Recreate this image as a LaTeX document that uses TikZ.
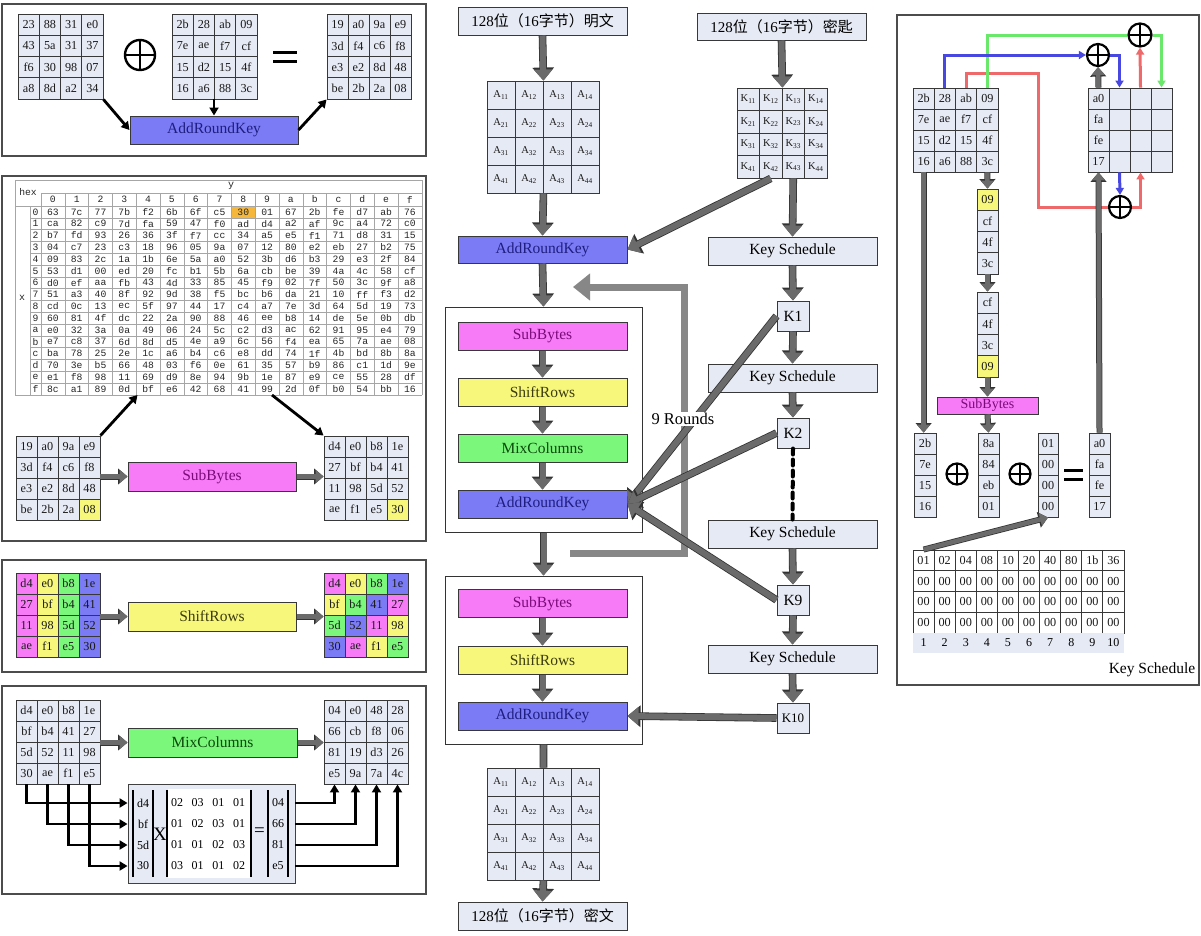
\documentclass[tikz,border=0pt]{standalone}
\usepackage{fontspec}
\setmainfont{Liberation Serif}
\newfontfamily\cjk{Noto Sans CJK SC}
\newfontfamily\monof{Liberation Mono}
\usetikzlibrary{arrows.meta}
\definecolor{bg}{HTML}{E6EAF4}
\definecolor{bl}{HTML}{7B7BF5}
\definecolor{mg}{HTML}{F77BF7}
\definecolor{yl}{HTML}{F7F77B}
\definecolor{gn}{HTML}{7BF77B}
\definecolor{org}{HTML}{F5B83D}
\definecolor{arktxt}{HTML}{1E1E80}
\definecolor{sbtxt}{HTML}{7A0A7A}
\definecolor{srtxt}{HTML}{3C3C10}
\definecolor{mctxt}{HTML}{0A4A0A}
\definecolor{redl}{HTML}{EE6A6A}
\definecolor{bluel}{HTML}{4848E0}
\definecolor{greenl}{HTML}{6AE86A}
\newcommand\fsz[1]{\fontsize{#1}{#1}\selectfont}
\newcommand\cellpre[1]{#1}
\newcommand\mgrid[7]{%
 \foreach \v [count=\ix from 0] in {#7} {%
  \pgfmathtruncatemacro\gr{div(\ix,#6)}%
  \pgfmathtruncatemacro\gc{mod(\ix,#6)}%
  \node[cell, minimum width=#4, minimum height=#5] (#1-\gr-\gc) at ({#2+(\gc+0.5)*#4},{#3+(\gr+0.5)*#5}) {\cellpre{\v}};
 }}
\newcommand\cgrid[7]{%
 \foreach \v/\f [count=\ix from 0] in {#7} {%
  \pgfmathtruncatemacro\gr{div(\ix,#6)}%
  \pgfmathtruncatemacro\gc{mod(\ix,#6)}%
  \node[cell, fill=\f, minimum width=#4, minimum height=#5] (#1-\gr-\gc) at ({#2+(\gc+0.5)*#4},{#3+(\gr+0.5)*#5}) {\v};
 }}
\tikzset{
 cell/.style={draw=black!78, line width=0.9pt, fill=bg, inner sep=0pt, font=\fsz{12.2}, text=black!90},
 box/.style={draw=black!78, line width=1pt, inner sep=0pt, font=\fsz{15.5}},
 panel/.style={draw=black!70, line width=1.3pt},
 frame/.style={draw=black!80, line width=1pt, fill=white, inner sep=0pt},
 blk/.style={line width=2.8pt, -{Triangle[length=8pt,width=9pt]}},
 garr/.style={draw=black!58, line width=4.5pt, -{Triangle[length=8pt,width=13pt]}, preaction={draw=black!80, line width=6pt, -{Triangle[length=9.5pt,width=15.5pt]}}},
 fat/.style={draw=black!58, line width=6pt, -{Triangle[length=11pt,width=18pt]}, preaction={draw=black!80, line width=7.6pt, -{Triangle[length=13pt,width=21pt]}}},
 fatline/.style={draw=black!58, line width=6pt, preaction={draw=black!80, line width=7.6pt}},
 rndloop/.style={draw=black!47, line width=7pt, -{Triangle[length=17pt,width=26pt]}},
 kdots/.style={line width=4pt, dash pattern=on 6pt off 5pt, line cap=round},
 cl/.style={line width=3pt, -{Triangle[length=7pt,width=8pt]}},
 clnh/.style={line width=3pt},
 oplus/.style={circle, draw, line width=2.4pt, inner sep=0pt, path picture={\draw[line width=2.4pt] (path picture bounding box.north) -- (path picture bounding box.south) (path picture bounding box.west) -- (path picture bounding box.east);}},
 sbt/.style={font=\monof\fsz{9.7}, inner sep=0pt, text=black!85},
 sgrid/.style={draw=black!35, line width=0.6pt},
 mtx/.style={font=\fsz{12}, inner sep=0pt},
 bar/.style={line width=2.8pt},
}
\begin{document}
\begin{tikzpicture}[x=1pt,y=-1pt]
\useasboundingbox (0,0) rectangle (1201,935);
\fill[white] (0,0) rectangle (1201,935);

% ---------- Panel 1: AddRoundKey
\draw[panel] (2,4) rectangle (426,156);
\mgrid{ma}{18}{14}{21.25}{21.25}{4}{23,88,31,e0,43,5a,31,37,f6,30,98,07,a8,8d,a2,34}
\mgrid{mb}{172}{14}{21.25}{21.25}{4}{2b,28,ab,09,7e,ae,f7,cf,15,d2,15,4f,16,a6,88,3c}
\mgrid{mc}{327}{14}{21}{21.25}{4}{19,a0,9a,e9,3d,f4,c6,f8,e3,e2,8d,48,be,2b,2a,08}
\node[oplus, minimum size=30] (xo1) at (140,55) {};
\draw[line width=3pt] (273,52) -- (297,52) (273,61) -- (297,61);
\node[box, fill=bl, text=arktxt, minimum width=168, minimum height=28] (ark1) at (214,130) {AddRoundKey};
\draw[blk] (ma-3-3.south east) -- (ark1.west);
\draw[blk] (ark1.north |- mb-3-1.south east) -- (ark1.north);
\draw[blk] (ark1.east) -- (mc-3-0.south west);

% ---------- Panel 2: S-box / SubBytes
\draw[panel] (2,176) rectangle (426,541);
\fill[org] (231.4,206) rectangle (255.2,217.8);
\foreach \k in {1,...,15} \draw[sgrid] (30,{206+11.8*\k}) -- (421.8,{206+11.8*\k});
\draw[sgrid] (15,206) -- (421.8,206);
\draw[sgrid] (15,394.8) -- (421.8,394.8);
\foreach \k in {0,...,16} \draw[sgrid] ({41+23.8*\k},193) -- ({41+23.8*\k},394.8);
\draw[sgrid] (41,193) -- (421.8,193);
\draw[sgrid] (15,180) -- (421.8,180);
\draw[sgrid] (15,180) -- (15,394.8);
\draw[sgrid] (30,206) -- (30,394.8);
\draw[sgrid] (421.8,180) -- (421.8,193);
\node[sbt] (hexl) at (28,192) {hex};
\node[sbt, font=\monof\fsz{10}] (xl) at (22,298) {x};
\node[sbt, font=\monof\fsz{10}] (yl) at (231,186) {y};
\foreach \h [count=\ci from 0] in {0,1,2,3,4,5,6,7,8,9,a,b,c,d,e,f} {
  \node[sbt] (sh-\ci) at ({52.9+23.8*\ci},199.5) {\h};
  \node[sbt] (sv-\ci) at (35.5,{211.9+11.8*\ci}) {\h};
}
\foreach \row [count=\ri from 0] in {
 {63,7c,77,7b,f2,6b,6f,c5,30,01,67,2b,fe,d7,ab,76},
 {ca,82,c9,7d,fa,59,47,f0,ad,d4,a2,af,9c,a4,72,c0},
 {b7,fd,93,26,36,3f,f7,cc,34,a5,e5,f1,71,d8,31,15},
 {04,c7,23,c3,18,96,05,9a,07,12,80,e2,eb,27,b2,75},
 {09,83,2c,1a,1b,6e,5a,a0,52,3b,d6,b3,29,e3,2f,84},
 {53,d1,00,ed,20,fc,b1,5b,6a,cb,be,39,4a,4c,58,cf},
 {d0,ef,aa,fb,43,4d,33,85,45,f9,02,7f,50,3c,9f,a8},
 {51,a3,40,8f,92,9d,38,f5,bc,b6,da,21,10,ff,f3,d2},
 {cd,0c,13,ec,5f,97,44,17,c4,a7,7e,3d,64,5d,19,73},
 {60,81,4f,dc,22,2a,90,88,46,ee,b8,14,de,5e,0b,db},
 {e0,32,3a,0a,49,06,24,5c,c2,d3,ac,62,91,95,e4,79},
 {e7,c8,37,6d,8d,d5,4e,a9,6c,56,f4,ea,65,7a,ae,08},
 {ba,78,25,2e,1c,a6,b4,c6,e8,dd,74,1f,4b,bd,8b,8a},
 {70,3e,b5,66,48,03,f6,0e,61,35,57,b9,86,c1,1d,9e},
 {e1,f8,98,11,69,d9,8e,94,9b,1e,87,e9,ce,55,28,df},
 {8c,a1,89,0d,bf,e6,42,68,41,99,2d,0f,b0,54,bb,16}} {
  \foreach \v [count=\ci from 0] in \row {
    \node[sbt] (sb-\ri-\ci) at ({52.9+23.8*\ci},{211.9+11.8*\ri}) {\v};
  }
}
\cgrid{sbi}{16}{436}{21}{21}{4}{19/bg,a0/bg,9a/bg,e9/bg,3d/bg,f4/bg,c6/bg,f8/bg,e3/bg,e2/bg,8d/bg,48/bg,be/bg,2b/bg,2a/bg,08/yl}
\cgrid{sbo}{324}{436}{21}{21}{4}{d4/bg,e0/bg,b8/bg,1e/bg,27/bg,bf/bg,b4/bg,41/bg,11/bg,98/bg,5d/bg,52/bg,ae/bg,f1/bg,e5/bg,30/yl}
\node[box, fill=mg, text=sbtxt, minimum width=168, minimum height=29] (sbb) at (212,476.5) {SubBytes};
\coordinate (sbt1) at (137.5,395);
\coordinate (sbt2) at (272,395);
\draw[blk] (sbi-0-3.north east) -- (sbt1);
\draw[blk] (sbt2) -- (sbo-0-0.north west);
\draw[garr] (sbb.west -| sbi-1-3.east) -- (sbb.west);
\draw[garr] (sbb.east) -- (sbb.east -| sbo-1-0.west);

% ---------- Panel 3: ShiftRows
\draw[panel] (2,560) rectangle (426,672);
\cgrid{sri}{16}{573}{21}{21}{4}{d4/mg,e0/yl,b8/gn,1e/bl,27/mg,bf/yl,b4/gn,41/bl,11/mg,98/yl,5d/gn,52/bl,ae/mg,f1/yl,e5/gn,30/bl}
\cgrid{sro}{324}{573}{21}{21}{4}{d4/mg,e0/yl,b8/gn,1e/bl,bf/yl,b4/gn,41/bl,27/mg,5d/gn,52/bl,11/mg,98/yl,30/bl,ae/mg,f1/yl,e5/gn}
\node[box, fill=yl, text=srtxt, minimum width=168, minimum height=29] (srb) at (212,616.5) {ShiftRows};
\draw[garr] (srb.west -| sri-1-3.east) -- (srb.west);
\draw[garr] (srb.east) -- (srb.east -| sro-1-0.west);

% ---------- Panel 4: MixColumns
\draw[panel] (2,686) rectangle (426,894);
\mgrid{mci}{16}{700}{21}{21}{4}{d4,e0,b8,1e,bf,b4,41,27,5d,52,11,98,30,ae,f1,e5}
\mgrid{mco}{324}{700}{21}{21}{4}{04,e0,48,28,66,cb,f8,06,81,19,d3,26,e5,9a,7a,4c}
\node[box, fill=gn, text=mctxt, minimum width=169, minimum height=29] (mcb) at (212.5,742.5) {MixColumns};
\draw[garr] (mcb.west -| mci-1-3.east) -- (mcb.west);
\draw[garr] (mcb.east) -- (mcb.east -| mco-1-0.west);
\node[draw=black!75, fill=bg, line width=0.9pt, minimum width=167, minimum height=99, inner sep=0pt] (mp) at (211.5,833.5) {};
\fill[white] (168,789) rectangle (250,878);
\foreach \bx in {133,153,167,251,268,288} \draw[bar] (\bx,790) -- (\bx,877);
\foreach \t [count=\k from 0] in {d4,bf,5d,30} \node[mtx] (mv\k) at (143,{803+21*\k}) {\t};
\foreach \t [count=\k from 0] in {04,66,81,e5} \node[mtx] (mo\k) at (278,{803+21*\k}) {\t};
\foreach \row [count=\ri from 0] in {{02,03,01,01},{01,02,03,01},{01,01,02,03},{03,01,01,02}} {
  \foreach \v [count=\ci from 0] in \row {
    \node[mtx] (mm-\ri-\ci) at ({177+20.7*\ci},{803+21*\ri}) {\v};
  }
}
\node[font=\fsz{19}, inner sep=0pt] (mx) at (160,834) {X};
\node[font=\fsz{19}, inner sep=0pt] (meq) at (259.5,832) {=};
\foreach \k in {0,...,3} \draw[blk] (mci-3-\k.south) |- (mp.west |- mv\k);
\foreach \k in {0,...,3} \draw[blk] (mp.east |- mo\k) -| (mco-3-\k.south);

% ---------- Centre flow
\node[box, fill=bg, minimum width=169, minimum height=28, font=\fsz{15}] (pt) at (542.5,21) {128{\cjk 位（}16{\cjk 字节）明文}};
\node[box, fill=bg, minimum width=169, minimum height=27, font=\fsz{15}] (kb) at (781.5,26.5) {128{\cjk 位（}16{\cjk 字节）密匙}};
\begin{scope}
\renewcommand\cellpre[1]{\fsz{10.5}A\textsubscript{#1}}
\mgrid{A}{487}{81}{28}{28}{4}{11,12,13,14,21,22,23,24,31,32,33,34,41,42,43,44}
\mgrid{B}{487}{768}{28}{28}{4}{11,12,13,14,21,22,23,24,31,32,33,34,41,42,43,44}
\renewcommand\cellpre[1]{\fsz{10.5}K\textsubscript{#1}}
\mgrid{K}{737}{88}{22.5}{22.5}{4}{11,12,13,14,21,22,23,24,31,32,33,34,41,42,43,44}
\end{scope}
\node[box, fill=bl, text=arktxt, minimum width=169, minimum height=27] (ark0) at (542.5,249.5) {AddRoundKey};
\node[frame, minimum width=197, minimum height=225] (r1) at (543.5,419.5) {};
\node[frame, minimum width=197, minimum height=168] (r2) at (543.5,660) {};
\node[box, fill=mg, text=sbtxt, minimum width=169, minimum height=28] (sb1) at (542.5,336) {SubBytes};
\node[box, fill=yl, text=srtxt, minimum width=169, minimum height=28] (sr1) at (542.5,392) {ShiftRows};
\node[box, fill=gn, text=mctxt, minimum width=169, minimum height=28] (mc1) at (542.5,448) {MixColumns};
\node[box, fill=bl, text=arktxt, minimum width=169, minimum height=28] (ark1c) at (542.5,504) {AddRoundKey};
\node[box, fill=mg, text=sbtxt, minimum width=169, minimum height=28] (sb2) at (542.5,603.5) {SubBytes};
\node[box, fill=yl, text=srtxt, minimum width=169, minimum height=28] (sr2) at (542.5,660) {ShiftRows};
\node[box, fill=bl, text=arktxt, minimum width=169, minimum height=28] (ark2) at (542.5,716) {AddRoundKey};
\node[box, fill=bg, minimum width=169, minimum height=28, font=\fsz{15}] (ct) at (542.5,916) {128{\cjk 位（}16{\cjk 字节）密文}};

\node[box, fill=bg, minimum width=169, minimum height=28, font=\fsz{15.5}] (ks1) at (792.5,251) {Key Schedule};
\node[box, fill=bg, minimum width=169, minimum height=28, font=\fsz{15.5}] (ks2) at (792.5,378) {Key Schedule};
\node[box, fill=bg, minimum width=169, minimum height=28, font=\fsz{15.5}] (ks3) at (792.5,534) {Key Schedule};
\node[box, fill=bg, minimum width=169, minimum height=28, font=\fsz{15.5}] (ks4) at (792.5,659) {Key Schedule};
\node[box, fill=bg, minimum width=32, minimum height=30, font=\fsz{15.5}] (K1) at (793,316) {K1};
\node[box, fill=bg, minimum width=32, minimum height=30, font=\fsz{15.5}] (K2) at (793,433) {K2};
\node[box, fill=bg, minimum width=32, minimum height=30, font=\fsz{15.5}] (K9) at (793,600) {K9};
\node[box, fill=bg, minimum width=32, minimum height=30, font=\fsz{13}] (K10) at (793,718) {K10};

\coordinate (lp1) at (570,553);
\coordinate (lp2) at (684,287);
\coordinate (lp3) at (573,287);
\draw[rndloop] (lp1) -| (lp2) -- (lp3);

\draw[fat] (pt.south) -- (A-0-1.north east);
\draw[fat] (A-3-1.south east) -- (ark0.north);
\draw[fat] (kb.south) -- (K-0-1.north east);
\draw[fat] (K-3-1.south) -- (ark0.east);
\draw[fat] (K-3-2.south) -- (ks1.north);
\draw[fat] (ark0.south) -- (r1.north);
\draw[fat] (sb1.south) -- (sr1.north);
\draw[fat] (sr1.south) -- (mc1.north);
\draw[fat] (mc1.south) -- (ark1c.north);
\draw[fat] (r1.south) -- (r2.north);
\draw[fat] (sb2.south) -- (sr2.north);
\draw[fat] (sr2.south) -- (ark2.north);
\draw[fatline] (r2.south) -- (B-0-1.north east);
\draw[fat] (B-3-1.south east) -- (ct.north);
\draw[fat] (ks1.south) -- (K1.north);
\draw[fat] (K1.south) -- (ks2.north);
\draw[fat] (ks2.south) -- (K2.north);
\draw[kdots] (K2.south) -- (ks3.north);
\draw[fat] (ks3.south) -- (K9.north);
\draw[fat] (K9.south) -- (ks4.north);
\draw[fat] (ks4.south) -- (K10.north);
\draw[fat] (K1.west) -- (ark1c.east);
\draw[fat] (K2.west) -- (ark1c.east);
\draw[fat] (K9.west) -- (ark1c.east);
\draw[fat] (K10.west) -- (ark2.east);
\node[fill=white, inner sep=1.5pt, font=\fsz{16.5}] (nr) at (683,419) {9 Rounds};

% ---------- Right panel: Key Schedule
\draw[panel] (897,15) rectangle (1199,685);
\mgrid{ksk}{913}{88}{21.25}{21}{4}{2b,28,ab,09,7e,ae,f7,cf,15,d2,15,4f,16,a6,88,3c}
\mgrid{rs}{1088}{88}{21}{21}{4}{a0,{},{},{},fa,{},{},{},fe,{},{},{},17,{},{},{}}
\cgrid{ca}{977}{189}{21}{21.25}{1}{09/yl,cf/bg,4f/bg,3c/bg}
\cgrid{cb}{977}{292}{21}{21.25}{1}{cf/bg,4f/bg,3c/bg,09/yl}
\node[box, fill=mg, text=sbtxt, minimum width=101, minimum height=17, font=\fsz{14}] (sbk) at (987.5,405.5) {SubBytes};
\mgrid{ka}{914}{433}{22}{21}{1}{2b,7e,15,16}
\mgrid{kc}{978}{433}{21}{21}{1}{8a,84,eb,01}
\mgrid{kr}{1038}{433}{20}{21}{1}{01,00,00,00}
\mgrid{ko}{1089}{433}{21}{21}{1}{a0,fa,fe,17}
\node[oplus, minimum size=21, line width=2.2pt] (o4) at (957,474) {};
\node[oplus, minimum size=21, line width=2.2pt] (o5) at (1020,474) {};
\draw[line width=3pt] (1064,470) -- (1083,470) (1064,479) -- (1083,479);
\node[oplus, minimum size=23, line width=2.2pt] (o1) at (1140,35) {};
\node[oplus, minimum size=22, line width=2.2pt] (o2) at (1098,55) {};
\node[oplus, minimum size=22, line width=2.2pt] (o3) at (1120,207) {};
\begin{scope}
\tikzset{cell/.append style={fill=white}}
\mgrid{rc}{913}{550}{21.1}{20.75}{10}{01,02,04,08,10,20,40,80,1b,36,00,00,00,00,00,00,00,00,00,00,00,00,00,00,00,00,00,00,00,00,00,00,00,00,00,00,00,00,00,00}
\end{scope}
\fill[bg] (913,633) rectangle (1124,653);
\foreach \k in {1,...,10} \node[mtx] (rn\k) at ({913+21.1*(\k-0.5)},643) {\k};
\coordinate (redc) at (1038,73);
\draw[clnh, redl] (ksk-0-2.north) |- (redc) |- (o3.west);
\draw[cl, redl] (o3.east) -| (rs-3-2.south);
\draw[cl, redl] (rs-0-2.north) -- (o1.south);
\draw[clnh, greenl] (ksk-0-3.north) |- (o1.west);
\draw[cl, greenl] (o1.east) -| (rs-0-3.north);
\draw[cl, bluel] (ksk-0-1.north) |- (o2.west);
\draw[cl, bluel] (o2.east) -| (rs-0-1.north);
\draw[cl, bluel] (rs-3-1.south) -- (o3.north);
\draw[garr] (rs-0-0.north) -- (o2.south);
\draw[garr] (ksk-3-0.south) -- (ksk-3-0.south |- ka-0-0.north);
\draw[garr] (ksk-3-3.south) -- (ca-0-0.north);
\draw[garr] (ca-3-0.south) -- (cb-0-0.north);
\draw[garr] (cb-3-0.south) -- (sbk.north);
\draw[garr] (sbk.south) -- (kc-0-0.north);
\draw[garr] (ko-0-0.north) -- (rs-3-0.south);
\draw[garr] (rc-0-0.north) -- (kr-3-0.south);
\node[font=\fsz{15.5}, inner sep=0pt] (kslabel) at (1152,670) {Key Schedule};
\end{tikzpicture}
\end{document}
